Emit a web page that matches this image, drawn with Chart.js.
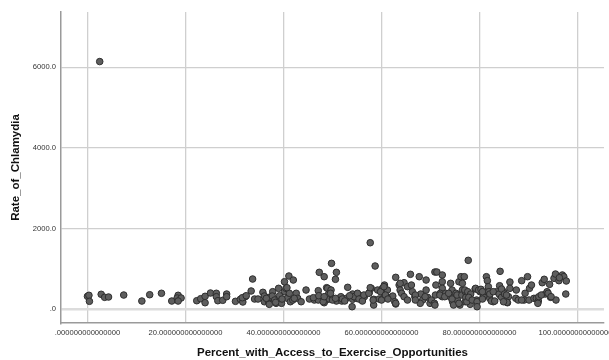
<!DOCTYPE html>
<html>
<head>
<meta charset="utf-8">
<script src="https://cdn.jsdelivr.net/npm/chart.js@4/dist/chart.umd.min.js"></script>
<style>
    html, body { margin: 0; padding: 0; background: #fff; }
    #wrap { width: 609px; height: 360px; }
</style>
</head>
<body>
<div id="wrap"><canvas id="chart" width="609" height="360"></canvas></div>
<script>
// ---------- datos ----------
const X_TITLE = 'Percent_with_Access_to_Exercise_Opportunities';
const Y_TITLE = 'Rate_of_Chlamydia';

const xTicks = [0, 20, 40, 60, 80, 100];
const xTickLabels = ['.000000000000000', '20.000000000000000', '40.000000000000000',
    '60.000000000000000', '80.000000000000000', '100.000000000000000'];
const yTicks = [0, 2000, 4000, 6000];
const yTickLabels = ['.0', '2000.0', '4000.0', '6000.0'];

// porcentaje con acceso (x)
const accessPct = [
    0.0, 0.3, 0.4, 2.5, 2.8, 3.5, 4.3, 7.4, 11.1, 12.7, 15.1, 17.2, 18.5, 18.3, 19.1, 18.5,
    22.3, 23.1, 24.0, 24.0, 25.1, 26.3, 26.3, 26.6, 27.6, 28.4, 28.4, 30.2, 31.2, 31.7, 32.2, 33.4,
    33.7, 34.1, 34.8, 35.8, 36.1, 36.1, 37.0, 37.1, 37.8, 37.7, 38.2, 38.5, 39.0, 39.3, 39.6, 40.2,
    40.2, 40.5, 41.1, 40.8, 41.2, 41.4, 42.0, 41.9, 42.6, 42.9, 43.6, 44.6, 45.3, 46.3, 47.3, 47.1,
    47.1, 48.3, 48.7, 48.3,
    31.6, 32.4, 36.5, 37.1, 38.4, 39.2, 39.7, 40.7, 42.2, 46.1, 47.2, 48.1, 48.8, 49.5,
    49.8, 50.8, 50.6, 49.0, 49.2, 49.7, 49.4, 48.3, 50.0, 50.8, 51.7, 51.9, 53.1, 52.8, 54.1, 54.1,
    54.0, 55.1, 54.9, 55.7, 55.6, 56.5, 57.5, 57.7, 57.9, 58.4, 58.4, 58.7, 59.2, 59.5, 60.2, 60.6,
    60.4, 60.0, 61.2, 61.4, 62.3, 62.7, 62.9, 62.9, 63.6, 63.8, 64.1, 64.6, 64.6, 65.3, 65.3, 65.9,
    66.1, 66.3, 66.8, 67.7, 68.0, 68.4, 69.1, 69.1, 69.4, 69.9, 70.2, 70.9, 71.3, 71.1, 71.0, 70.8,
    72.4, 72.4, 72.4, 72.4, 72.0, 73.1, 74.1, 74.4, 74.1, 74.5, 75.2, 75.5, 75.8, 76.2, 76.5,
    51.7, 52.0, 54.4, 55.1, 55.4, 56.1, 56.4, 57.4, 57.7, 58.3, 59.8, 60.5, 60.8, 61.3, 62.9, 63.8,
    49.6, 50.0, 50.6, 53.5, 52.5,
    68.9, 71.9, 72.9, 73.7, 74.4, 74.7, 75.4, 76.4, 77.1, 77.7, 78.1, 79.1, 80.1, 80.8, 81.5, 82.1,
    82.8, 83.5, 84.2, 84.9, 67.9, 66.9, 66.9, 70.9, 76.0, 77.1, 79.4,
    75.8, 76.5, 76.9, 77.0, 77.2, 77.7, 77.6, 77.4, 78.2, 77.8, 78.5, 79.2, 79.5, 79.5, 79.8, 80.3,
    80.6, 80.6, 81.4, 81.6, 81.8, 81.9, 82.1, 82.4, 82.8, 83.1, 84.0, 84.1, 84.2, 84.5, 84.5, 85.1,
    85.7, 85.9, 86.2, 86.2, 87.5, 87.4, 87.9, 88.6, 89.1, 89.8, 90.1, 90.2, 90.6, 91.1, 91.6, 92.0,
    92.1, 92.8, 93.2, 93.4, 93.8, 94.3, 94.5, 95.2, 95.5, 95.6, 96.2, 96.9, 97.2, 97.7, 97.6,
    85.5, 85.6, 89.3, 88.6, 91.9, 92.6, 94.0, 94.6, 96.3, 84.9,
];

// tasa de clamidia (y)
const chlamydiaRate = [
    315, 340, 191, 6140, 365, 290, 298, 347, 198, 355, 390, 198, 340, 273, 273, 198,
    206, 256, 156, 315, 397, 390, 306, 206, 216, 372, 306, 191, 241, 174, 306, 447,
    744, 248, 248, 414, 322, 181, 149, 290, 430, 322, 223, 141, 513, 241, 141, 677,
    430, 513, 819, 265, 390, 181, 719, 223, 390, 265, 181, 471, 248, 223, 910, 455,
    223, 802, 223, 156,
    281, 330, 265, 116, 166, 330, 248, 529, 265, 281, 330, 181, 529, 473,
    1133, 910, 737, 513, 372, 471, 248, 306, 265, 198, 265, 198, 538, 265, 372, 241,
    57, 372, 265, 330, 265, 306, 405, 1645, 513, 241, 99, 1067, 471, 248, 513, 595,
    390, 223, 471, 290, 322, 181, 786, 124, 595, 471, 390, 653, 306, 554, 223, 861,
    595, 430, 306, 802, 372, 223, 719, 471, 290, 141, 223, 918, 918, 595, 347, 141,
    844, 677, 513, 306, 390, 390, 637, 471, 290, 181, 390, 223, 677, 802, 471,
    306, 248, 306, 390, 248, 198, 347, 390, 529, 223, 430, 554, 347, 248, 141, 637,
    390, 223, 265, 330, 200,
    306, 347, 306, 390, 248, 99, 347, 347, 430, 281, 116, 496, 430, 306, 430, 265,
    181, 430, 347, 430, 141, 347, 223, 99, 99, 181, 223,
    141, 637, 802, 471, 290, 1208, 430, 181, 372, 290, 223, 513, 181, 57, 471, 488,
    430, 248, 802, 703, 554, 430, 372, 198, 430, 198, 372, 578, 935, 496, 290, 372,
    156, 306, 670, 513, 471, 265, 223, 703, 223, 802, 223, 513, 595, 265, 265, 198,
    306, 653, 737, 372, 430, 612, 290, 762, 868, 223, 703, 844, 802, 695, 372,
    347, 166, 390, 223, 141, 347, 390, 306, 777, 181,
];

const puntos = accessPct.map((x, i) => ({ x, y: chlamydiaRate[i] }));

Chart.defaults.font.family = "'Liberation Sans', Arial, sans-serif";
Chart.defaults.color = '#222';

// fija el área del gráfico sin que las etiquetas largas la achiquen
function fijarAncho(w) {
    return scale => {
        scale.width = w;
        scale.paddingLeft = scale.paddingRight = scale.paddingTop = scale.paddingBottom = 0;
    };
}
function fijarAlto(h) {
    return scale => {
        scale.height = h;
        scale.paddingLeft = scale.paddingRight = scale.paddingTop = scale.paddingBottom = 0;
    };
}

new Chart(document.getElementById('chart'), {
    type: 'scatter',
    data: {
        datasets: [{
            data: puntos,
            backgroundColor: '#5e5e5e',
            borderColor: '#2e2e2e',
            borderWidth: 1,
            pointRadius: 3.3,
        }],
    },
    options: {
        responsive: false,
        animation: false,
        devicePixelRatio: 1,
        layout: { padding: { top: 12, right: 4, left: 0, bottom: 0 } },
        plugins: { legend: { display: false }, tooltip: { enabled: false } },
        scales: {
            x: {
                type: 'linear',
                min: -5.4,
                max: 105.4,
                afterBuildTicks: s => { s.ticks = xTicks.map(v => ({ value: v })); },
                afterFit: fijarAlto(37),
                ticks: {
                    autoSkip: false,
                    maxRotation: 0,
                    padding: 5,
                    font: { size: 7.6 },
                    color: '#333',
                    callback: v => xTickLabels[xTicks.indexOf(v)],
                },
                grid: { color: '#cfcfcf', lineWidth: 1.3, drawTicks: false },
                border: { color: '#9a9a9a', width: 1.5 },
                title: {
                    display: true,
                    text: X_TITLE,
                    font: { size: 11.5, weight: 'bold' },
                    color: '#111',
                    padding: { top: 0, bottom: 0 },
                },
            },
            y: {
                type: 'linear',
                min: -347,
                max: 7370,
                afterBuildTicks: s => { s.ticks = yTicks.map(v => ({ value: v })); },
                afterFit: fijarAncho(61),
                ticks: {
                    padding: 5,
                    font: { size: 7.6 },
                    color: '#333',
                    callback: v => yTickLabels[yTicks.indexOf(v)],
                },
                grid: {
                    color: c => (c.tick && c.tick.value === 0 ? '#dcdcdc' : '#cfcfcf'),
                    lineWidth: c => (c.tick && c.tick.value === 0 ? 2.5 : 1.3),
                    drawTicks: false,
                },
                border: { color: '#9a9a9a', width: 1.5 },
                title: {
                    display: true,
                    text: Y_TITLE,
                    font: { size: 11.5, weight: 'bold' },
                    color: '#111',
                    padding: { top: 9, bottom: 0 },
                },
            },
        },
    },
});
</script>
</body>
</html>
